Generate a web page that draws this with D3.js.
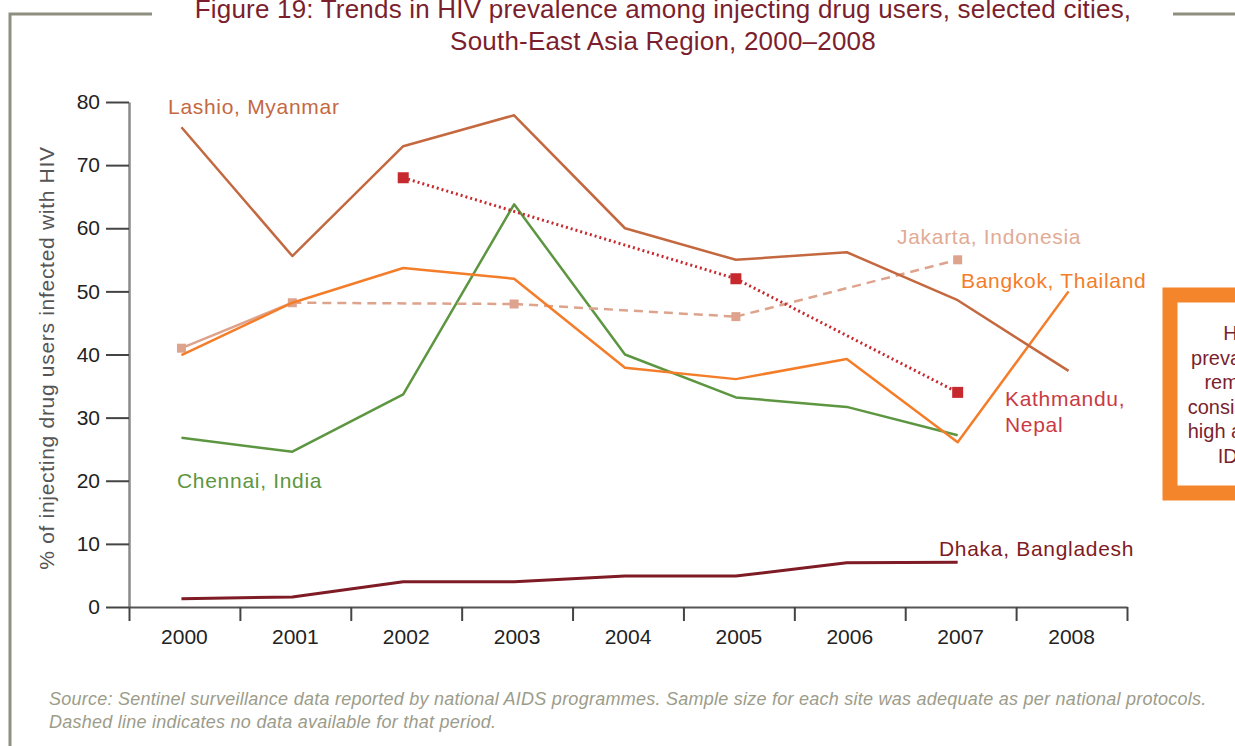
<!DOCTYPE html>
<html>
<head>
<meta charset="utf-8">
<script src="https://cdn.jsdelivr.net/npm/d3@7"></script>
<style>
  body { margin: 0; background: #fff; }
  text { font-family: "Liberation Sans", Arial, sans-serif; }
</style>
</head>
<body>
<div id="chart"></div>
<script>
// chart size
var svgWidth = 1235;
var svgHeight = 746;

var margin = { top: 102, left: 129, right: 108, bottom: 139 };
var chartWidth = 1127 - margin.left;
var chartHeight = 607 - margin.top;

// data (% of IDUs infected with HIV)
var years = [2000, 2001, 2002, 2003, 2004, 2005, 2006, 2007, 2008];
var yTicks = [0, 10, 20, 30, 40, 50, 60, 70, 80];
var lashio = [76, 55.6, 73, 77.9, 60, 55, 56.2, 48.6, 37.4];
var bangkok = [39.9, 48.2, 53.7, 52, 37.9, 36.1, 39.3, 26.1, 50];
var chennai = [26.8, 24.6, 33.7, 63.8, 40, 33.2, 31.7, 27.2, null];
var dhaka = [1.3, 1.6, 4, 4, 4.9, 4.9, 7, 7.1, null];
var jakarta = [41, 48.2, null, 48, null, 46, null, 55, null];
var kathmandu = [null, null, 68, null, null, 52, null, 34, null];

var svg = d3.select("#chart")
  .append("svg")
  .attr("width", svgWidth)
  .attr("height", svgHeight);

// frame
var frameColor = "#8f8f80";
svg.append("path")
  .attr("d", "M10,746 L10,14 L152,14")
  .attr("fill", "none")
  .attr("stroke", frameColor)
  .attr("stroke-width", 3);
svg.append("line")
  .attr("x1", 1173).attr("x2", 1235).attr("y1", 14).attr("y2", 14)
  .attr("stroke", frameColor)
  .attr("stroke-width", 3);

// title (first line runs off the top, as in the source figure)
var title = svg.append("text")
  .attr("text-anchor", "middle")
  .attr("fill", "#7b1f2e")
  .style("font-size", "26px")
  .style("letter-spacing", "0.2px");
title.append("tspan").attr("x", 663).attr("y", 18)
  .text("Figure 19: Trends in HIV prevalence among injecting drug users, selected cities,");
title.append("tspan").attr("x", 663).attr("y", 50)
  .text("South-East Asia Region, 2000\u20132008");

var chartGroup = svg.append("g")
  .attr("transform", `translate(${margin.left}, ${margin.top})`);

// scales
var xBand = d3.scaleBand().domain(years).range([0, chartWidth]);
var xEdge = d3.scaleLinear().domain([0, years.length]).range([0, chartWidth]);
var yLinearScale = d3.scaleLinear().domain([0, 80]).range([chartHeight, 0]);

var xPos = function(i) { return xBand(years[i]) + xBand.bandwidth() / 2 - 3; };

// y axis
var leftAxis = d3.axisLeft(yLinearScale)
  .tickValues(yTicks)
  .tickSize(23)
  .tickSizeOuter(0)
  .tickPadding(6);
var yAxis = chartGroup.append("g").call(leftAxis);
yAxis.select(".domain").attr("stroke", "#8a8a8a").attr("stroke-width", 2.5);
yAxis.selectAll(".tick line").attr("stroke", "#444").attr("stroke-width", 2);
yAxis.selectAll(".tick text")
  .style("font-size", "21px")
  .attr("fill", "#222");

// x axis: tick marks at band edges, labels in band centres
var edgeAxis = d3.axisBottom(xEdge)
  .tickValues(d3.range(years.length + 1))
  .tickSize(14)
  .tickSizeOuter(0)
  .tickFormat("");
var xAxis = chartGroup.append("g")
  .attr("transform", `translate(0, ${chartHeight})`)
  .call(edgeAxis);
xAxis.select(".domain").attr("stroke", "#555").attr("stroke-width", 2);
xAxis.selectAll(".tick line").attr("stroke", "#444").attr("stroke-width", 2);

var labelAxis = d3.axisBottom(xBand).tickSize(0).tickPadding(22);
var xLabels = chartGroup.append("g")
  .attr("transform", `translate(0, ${chartHeight})`)
  .call(labelAxis);
xLabels.select(".domain").remove();
xLabels.selectAll(".tick text")
  .style("font-size", "21px")
  .attr("fill", "#222");

// y axis title
svg.append("text")
  .attr("transform", "translate(54, 358) rotate(-90)")
  .attr("text-anchor", "middle")
  .attr("fill", "#555")
  .style("font-size", "21px")
  .style("letter-spacing", "0.7px")
  .text("% of injecting drug users infected with HIV");

// line helpers
var lineGen = d3.line()
  .defined(function(d) { return d != null; })
  .x(function(d, i) { return xPos(i); })
  .y(function(d) { return yLinearScale(d); });

function drawSolid(values, color, width) {
  chartGroup.append("path")
    .datum(values)
    .attr("d", lineGen)
    .attr("fill", "none")
    .attr("stroke", color)
    .attr("stroke-width", width)
    .attr("stroke-linejoin", "round");
}

// series with gaps: solid between consecutive years, dashed across gaps
function drawGapped(values, color, width, dash, markerSize) {
  var pts = [];
  values.forEach(function(v, i) { if (v != null) pts.push({ i: i, v: v }); });
  for (var k = 1; k < pts.length; k++) {
    var a = pts[k - 1], b = pts[k];
    chartGroup.append("line")
      .attr("x1", xPos(a.i)).attr("y1", yLinearScale(a.v))
      .attr("x2", xPos(b.i)).attr("y2", yLinearScale(b.v))
      .attr("stroke", color)
      .attr("stroke-width", width)
      .attr("stroke-dasharray", b.i - a.i > 1 ? dash : null);
  }
  chartGroup.selectAll(null)
    .data(pts)
    .enter()
    .append("rect")
    .attr("x", function(d) { return xPos(d.i) - markerSize / 2; })
    .attr("y", function(d) { return yLinearScale(d.v) - markerSize / 2; })
    .attr("width", markerSize)
    .attr("height", markerSize)
    .attr("fill", color);
}

drawSolid(dhaka, "#7e1b24", 3);
drawSolid(chennai, "#5d9640", 2.5);
drawGapped(jakarta, "#dea38c", 2.5, "9,6", 9);
drawSolid(bangkok, "#f47d2a", 2.5);
drawSolid(lashio, "#c4683f", 2.5);
drawGapped(kathmandu, "#c62a2f", 3, "2,3", 11);

// series labels
var labels = [
  { text: "Lashio, Myanmar", x: 168, y: 114, color: "#c4683f" },
  { text: "Jakarta, Indonesia", x: 897, y: 244, color: "#e2ab95" },
  { text: "Bangkok, Thailand", x: 961, y: 288, color: "#f47d2a" },
  { text: "Kathmandu,", x: 1005, y: 406, color: "#c93a44" },
  { text: "Nepal", x: 1005, y: 432, color: "#c93a44" },
  { text: "Chennai, India", x: 177, y: 488, color: "#5d9640" },
  { text: "Dhaka, Bangladesh", x: 939, y: 556, color: "#7e1b24" }
];
svg.selectAll(".seriesLabel")
  .data(labels)
  .enter()
  .append("text")
  .attr("class", "seriesLabel")
  .attr("x", function(d) { return d.x; })
  .attr("y", function(d) { return d.y; })
  .attr("fill", function(d) { return d.color; })
  .style("font-size", "21px")
  .style("letter-spacing", "0.7px")
  .text(function(d) { return d.text; });

// callout box on the right edge (cut by the page edge, as in the source)
svg.append("rect")
  .attr("x", 1170).attr("y", 295)
  .attr("width", 90).attr("height", 198)
  .attr("fill", "#fff")
  .attr("stroke", "#f5852a")
  .attr("stroke-width", 15);
var boxLines = ["HIV", "prevalence", "remains", "consistently", "high among", "IDUs"];
svg.append("g").selectAll("text")
  .data(boxLines)
  .enter()
  .append("text")
  .attr("x", 1240)
  .attr("y", function(d, i) { return 340 + i * 24.5; })
  .attr("text-anchor", "middle")
  .attr("fill", "#7b1f2e")
  .style("font-size", "20px")
  .text(function(d) { return d; });

// source note
var note = svg.append("text")
  .attr("fill", "#9c9c8a")
  .style("font-size", "18px")
  .style("letter-spacing", "0.25px")
  .style("font-style", "italic");
note.append("tspan").attr("x", 49).attr("y", 705)
  .text("Source: Sentinel surveillance data reported by national AIDS programmes. Sample size for each site was adequate as per national protocols.");
note.append("tspan").attr("x", 49).attr("y", 728)
  .text("Dashed line indicates no data available for that period.");
</script>
</body>
</html>
